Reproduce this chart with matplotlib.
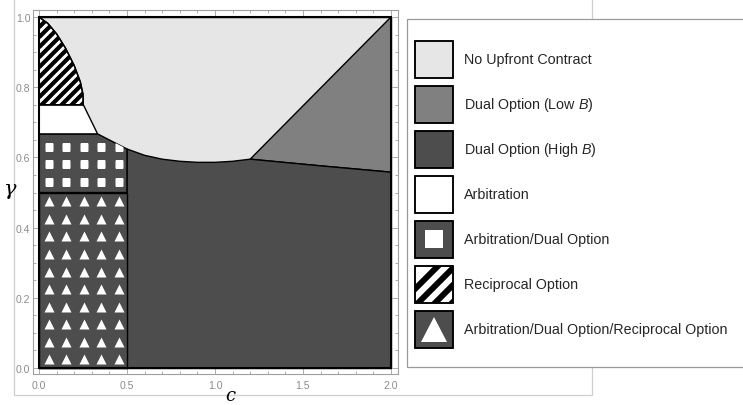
import numpy as np
import matplotlib
matplotlib.use("Agg")
import matplotlib.pyplot as plt
from matplotlib.patches import Polygon, Rectangle
from matplotlib.ticker import MultipleLocator

plt.rcParams['font.family'] = ['Liberation Sans', 'DejaVu Sans']
plt.rcParams['mathtext.fontset'] = 'custom'
plt.rcParams['mathtext.it'] = 'Liberation Sans:italic'
plt.rcParams['mathtext.rm'] = 'Liberation Sans'

# region boundaries, as (c, gamma)
recip_c = [0.0, 0.05, 0.10, 0.15, 0.20, 0.235, 0.25, 0.252]
recip_g = [1.0, 0.982, 0.952, 0.912, 0.862, 0.815, 0.78, 0.75]
lower_c = [0.333, 0.5, 0.6, 0.7, 0.8, 0.9, 1.0, 1.1, 1.2, 1.6, 2.0]
lower_g = [0.667, 0.624, 0.606, 0.595, 0.589, 0.586, 0.586, 0.589, 0.595, 0.576, 0.558]
kink_c, kink_g = 1.2, 0.595
c_split = 0.5
g_tri_top = 0.5
g_arb_bottom = 0.667
g_arb_top = 0.75
c_max, g_max = 2.0, 1.0

labels = ["No Upfront Contract", "Dual Option (Low $B$)", "Dual Option (High $B$)",
          "Arbitration", "Arbitration/Dual Option", "Reciprocal Option",
          "Arbitration/Dual Option/Reciprocal Option"]

LIGHT, MID, DARK = '#e6e6e6', '#808080', '#4d4d4d'
GREY = '#8c8c8c'

fig = plt.figure(figsize=(7.43, 4.06), dpi=100)
ax = fig.add_axes([33 / 743, 31 / 406, 365 / 743, 364 / 406])

lower = list(zip(lower_c, lower_g))
recip = list(zip(recip_c, recip_g))
ki = lower_c.index(kink_c)
si = lower_c.index(c_split)


def region(pts, fc):
    p = Polygon(pts, closed=True, facecolor=fc, edgecolor='black', lw=1.0, zorder=2)
    ax.add_patch(p)
    return p


region([(0, 0), (c_max, 0), (c_max, g_max), (0, g_max)], LIGHT)
region([(kink_c, kink_g), (c_max, g_max)] + lower[ki:][::-1], MID)
region([(c_split, 0), (c_max, 0)] + lower[si:][::-1], DARK)
sq = region([(0, g_tri_top), (c_split, g_tri_top)] + lower[:si + 1][::-1] + [(0, g_arb_bottom)], DARK)
tri = region([(0, 0), (c_split, 0), (c_split, g_tri_top), (0, g_tri_top)], DARK)
region([(0, g_arb_bottom), lower[0], recip[-1], (0, g_arb_top)], 'white')
hat = region([(0, g_arb_top)] + recip[::-1], 'white')

# diagonal stripes (45 deg on screen)
slope = (176 / 351)
for g0 in np.arange(0.6, 1.05, 0.0285):
    ln, = ax.plot([0, 0.3], [g0, g0 + slope * 0.3], color='black', lw=3.0,
                  solid_capstyle='butt', zorder=3)
    ln.set_clip_path(hat)
ax.add_patch(Polygon([(0, g_arb_top)] + recip[::-1], closed=True, fill=False,
                     edgecolor='black', lw=1.0, zorder=4))

# white square / triangle patterns
cols = np.arange(0.055, c_split, 0.1)
sx, sy = np.meshgrid(cols, [0.531, 0.581, 0.629])
m, = ax.plot(sx.ravel(), sy.ravel(), ls='none', marker='s', ms=5.2,
             mfc='white', mec='none', zorder=3)
m.set_clip_path(sq)
tx, ty = np.meshgrid(cols, np.arange(0.025, g_tri_top, 0.05))
ax.plot(tx.ravel(), ty.ravel(), ls='none', marker='^', ms=7,
        mfc='white', mec='none', zorder=3)

ax.add_patch(Rectangle((0, 0), c_max, g_max, fill=False, edgecolor='black', lw=1.5, zorder=5))

ax.set_xlim(-0.034, 2.040)
ax.set_ylim(-0.017, 1.020)
ax.xaxis.set_major_locator(MultipleLocator(0.5))
ax.xaxis.set_minor_locator(MultipleLocator(0.1))
ax.yaxis.set_major_locator(MultipleLocator(0.2))
ax.yaxis.set_minor_locator(MultipleLocator(0.05))
ax.xaxis.set_major_formatter(plt.FuncFormatter(lambda v, p: f"{v:.1f}"))
ax.yaxis.set_major_formatter(plt.FuncFormatter(lambda v, p: f"{v:.1f}"))
for s in ax.spines.values():
    s.set_color('#a0a0a0')
    s.set_linewidth(0.8)
ax.tick_params(which='both', direction='in', top=True, right=True, color='#a0a0a0',
               labelcolor=GREY, labelsize=7.6, width=0.6)
ax.tick_params(which='major', length=4)
ax.tick_params(which='minor', length=2.2)
ax.tick_params(axis='x', pad=4)
ax.tick_params(axis='y', pad=2)

fig.text(10 / 743, 1 - 190 / 406, '\u03b3', fontsize=15, ha='center', va='center',
         family='DejaVu Serif', style='italic')
fig.text(230 / 743, 1 - 405 / 406, 'c', fontsize=13, ha='center', va='bottom',
         family='DejaVu Serif', style='italic')

# overlay in pixel coordinates for frame and legend
ov = fig.add_axes([0, 0, 1, 1], facecolor='none')
ov.set_xlim(0, 743)
ov.set_ylim(406, 0)
ov.axis('off')
ov.add_patch(Rectangle((14, -5), 578, 401, fill=False, edgecolor='#cfcfcf', lw=0.9))
ov.add_patch(Rectangle((407, 20), 345, 348, facecolor='white', edgecolor='#9a9a9a', lw=0.9))

fills = [LIGHT, MID, DARK, 'white', DARK, 'white', DARK]
for i, (lab, fc) in enumerate(zip(labels, fills)):
    yc = 60 + 45 * i
    box = Rectangle((415, yc - 18.5), 38, 37, facecolor=fc, edgecolor='black', lw=1.1, zorder=3)
    ov.add_patch(box)
    if i == 4:
        ov.add_patch(Rectangle((425, yc - 9), 18, 18, facecolor='white', edgecolor='none', zorder=4))
    elif i == 5:
        for x0 in np.arange(395, 470, 17):
            ln, = ov.plot([x0, x0 + 50], [yc + 25, yc - 25], color='black', lw=4.3,
                          solid_capstyle='butt', zorder=4)
            ln.set_clip_path(box)
    elif i == 6:
        ov.add_patch(Polygon([(421, yc + 13), (447, yc + 13), (434, yc - 12)],
                             facecolor='white', edgecolor='none', zorder=4))
    ov.add_patch(Rectangle((415, yc - 18.5), 38, 37, fill=False, edgecolor='black', lw=1.1, zorder=5))
    ov.text(464, yc, lab, fontsize=10.3, color='#262626', va='center', ha='left')

fig.savefig('out.png', dpi=100)
